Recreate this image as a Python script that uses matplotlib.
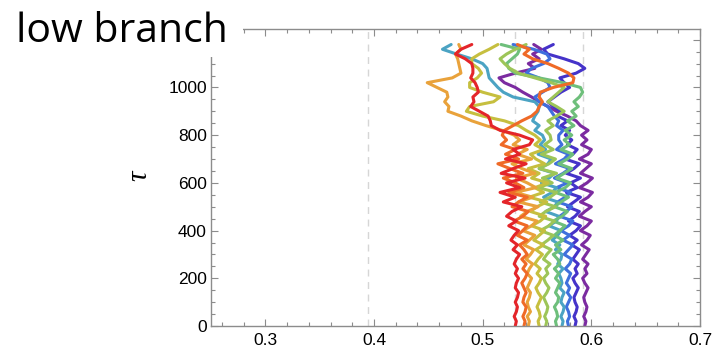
import numpy as np
import matplotlib
matplotlib.use('Agg')
import matplotlib.pyplot as plt
from matplotlib.patches import Rectangle
from matplotlib.ticker import MultipleLocator

# tau sample grid (every 20)
tau = np.arange(0, 1200, 20)

# x position of each trajectory (60 values each)
red = [0.530, 0.531, 0.529, 0.531, 0.532, 0.530, 0.532, 0.533, 0.530, 0.531,
       0.533, 0.530, 0.532, 0.529, 0.531, 0.534, 0.528, 0.532, 0.526, 0.529,
       0.533, 0.524, 0.531, 0.522, 0.527, 0.536, 0.519, 0.530, 0.516, 0.534,
       0.522, 0.539, 0.517, 0.528, 0.540, 0.521, 0.534, 0.528, 0.543, 0.546,
       0.534, 0.516, 0.508, 0.507, 0.505, 0.497, 0.489, 0.492, 0.491, 0.496,
       0.495, 0.493, 0.489, 0.491, 0.491, 0.490, 0.484, 0.475, 0.480, 0.490]
dark_orange = [0.538, 0.539, 0.537, 0.539, 0.540, 0.537, 0.538, 0.540, 0.538, 0.536,
               0.539, 0.541, 0.537, 0.540, 0.536, 0.541, 0.538, 0.534, 0.541, 0.532,
               0.537, 0.541, 0.529, 0.537, 0.542, 0.527, 0.533, 0.541, 0.524, 0.538,
               0.530, 0.519, 0.537, 0.525, 0.514, 0.533, 0.521, 0.530, 0.517, 0.522,
               0.518, 0.520, 0.528, 0.536, 0.545, 0.550, 0.552, 0.555, 0.552, 0.553,
               0.565, 0.583, 0.584, 0.579, 0.570, 0.560, 0.546, 0.538, 0.543, 0.532]
light_orange = [0.542, 0.543, 0.541, 0.544, 0.542, 0.541, 0.543, 0.544, 0.541, 0.543,
                0.545, 0.541, 0.543, 0.546, 0.540, 0.544, 0.547, 0.538, 0.543, 0.548,
                0.537, 0.545, 0.550, 0.535, 0.541, 0.551, 0.533, 0.546, 0.530, 0.549,
                0.541, 0.531, 0.548, 0.536, 0.527, 0.545, 0.532, 0.541, 0.528, 0.534,
                0.529, 0.518, 0.503, 0.490, 0.480, 0.468, 0.469, 0.465, 0.468, 0.467,
                0.458, 0.449, 0.472, 0.480, 0.479, 0.478, 0.477, 0.475, 0.480, 0.478]
olive = [0.552, 0.551, 0.553, 0.552, 0.550, 0.552, 0.554, 0.551, 0.549, 0.552,
         0.554, 0.550, 0.553, 0.548, 0.551, 0.555, 0.549, 0.556, 0.547, 0.552,
         0.557, 0.545, 0.553, 0.558, 0.544, 0.550, 0.559, 0.543, 0.556, 0.548,
         0.560, 0.545, 0.552, 0.542, 0.557, 0.549, 0.544, 0.556, 0.548, 0.553,
         0.548, 0.540, 0.533, 0.520, 0.500, 0.485, 0.488, 0.510, 0.516, 0.500,
         0.488, 0.488, 0.495, 0.499, 0.496, 0.490, 0.490, 0.497, 0.506, 0.514]
yellow_green = [0.558, 0.559, 0.557, 0.559, 0.560, 0.558, 0.556, 0.559, 0.561, 0.558,
                0.556, 0.560, 0.558, 0.562, 0.556, 0.559, 0.563, 0.554, 0.560, 0.565,
                0.553, 0.561, 0.566, 0.552, 0.558, 0.567, 0.553, 0.562, 0.568, 0.551,
                0.564, 0.555, 0.568, 0.552, 0.561, 0.567, 0.554, 0.565, 0.557, 0.563,
                0.562, 0.558, 0.565, 0.560, 0.568, 0.575, 0.568, 0.560, 0.565, 0.570,
                0.575, 0.563, 0.548, 0.533, 0.525, 0.520, 0.516, 0.522, 0.530, 0.540]
green = [0.568, 0.567, 0.569, 0.568, 0.566, 0.569, 0.570, 0.567, 0.569, 0.571,
         0.567, 0.570, 0.566, 0.571, 0.569, 0.565, 0.572, 0.567, 0.574, 0.566,
         0.571, 0.576, 0.565, 0.573, 0.578, 0.566, 0.572, 0.579, 0.567, 0.576,
         0.581, 0.568, 0.575, 0.582, 0.570, 0.578, 0.583, 0.572, 0.580, 0.575,
         0.582, 0.576, 0.584, 0.578, 0.586, 0.582, 0.588, 0.584, 0.589, 0.592,
         0.590, 0.574, 0.552, 0.530, 0.524, 0.522, 0.527, 0.532, 0.534, 0.517]
teal = [0.573, 0.574, 0.572, 0.574, 0.575, 0.572, 0.573, 0.575, 0.571, 0.573,
        0.572, 0.570, 0.574, 0.569, 0.572, 0.573, 0.567, 0.571, 0.564, 0.569,
        0.572, 0.561, 0.568, 0.570, 0.558, 0.566, 0.569, 0.556, 0.564, 0.568,
        0.554, 0.561, 0.566, 0.552, 0.560, 0.563, 0.551, 0.558, 0.553, 0.557,
        0.555, 0.548, 0.552, 0.546, 0.548, 0.551, 0.552, 0.548, 0.528, 0.519,
        0.514, 0.510, 0.506, 0.505, 0.504, 0.500, 0.490, 0.476, 0.463, 0.471]
blue = [0.579, 0.578, 0.580, 0.579, 0.577, 0.579, 0.581, 0.578, 0.580, 0.577,
        0.579, 0.581, 0.576, 0.580, 0.582, 0.575, 0.579, 0.583, 0.574, 0.580,
        0.572, 0.579, 0.583, 0.571, 0.577, 0.582, 0.569, 0.576, 0.581, 0.568,
        0.578, 0.566, 0.574, 0.580, 0.567, 0.575, 0.579, 0.568, 0.573, 0.570,
        0.570, 0.574, 0.568, 0.570, 0.566, 0.563, 0.560, 0.552, 0.548, 0.555,
        0.562, 0.560, 0.552, 0.540, 0.545, 0.556, 0.562, 0.559, 0.547, 0.528]
indigo = [0.585, 0.586, 0.584, 0.586, 0.587, 0.585, 0.584, 0.586, 0.588, 0.585,
          0.583, 0.587, 0.585, 0.588, 0.583, 0.586, 0.589, 0.582, 0.587, 0.580,
          0.586, 0.590, 0.579, 0.585, 0.589, 0.578, 0.584, 0.590, 0.577, 0.587,
          0.581, 0.590, 0.577, 0.584, 0.589, 0.576, 0.583, 0.587, 0.578, 0.582,
          0.576, 0.580, 0.572, 0.578, 0.569, 0.572, 0.565, 0.560, 0.566, 0.572,
          0.580, 0.575, 0.571, 0.586, 0.594, 0.588, 0.575, 0.560, 0.556, 0.565]
purple = [0.594, 0.595, 0.593, 0.595, 0.596, 0.594, 0.593, 0.595, 0.597, 0.594,
          0.592, 0.596, 0.594, 0.597, 0.592, 0.595, 0.598, 0.591, 0.596, 0.599,
          0.590, 0.596, 0.600, 0.589, 0.594, 0.600, 0.590, 0.597, 0.601, 0.589,
          0.596, 0.601, 0.590, 0.595, 0.600, 0.589, 0.597, 0.600, 0.591, 0.596,
          0.591, 0.597, 0.590, 0.586, 0.578, 0.568, 0.560, 0.552, 0.545, 0.537,
          0.530, 0.520, 0.515, 0.530, 0.548, 0.542, 0.552, 0.546, 0.554, 0.547]

series = [purple, indigo, blue, teal, green, yellow_green, olive, light_orange, dark_orange, red]
colors = ['#7b2ba0', '#4533c9', '#3f6fdd', '#4ba3c3', '#6ebf7b', '#9dc558',
          '#c6bf3f', '#e9a23b', '#ef6a27', '#e4252a']

# dashed reference lines
ref_x = [0.3945, 0.530, 0.5925]

y_major = [0, 200, 400, 600, 800, 1000, 1200]
y_labels = ['0', '200', '400', '600', '800', '1000', '']
x_major = [0.3, 0.4, 0.5, 0.6, 0.7]
x_labels = ['0.3', '0.4', '0.5', '0.6', '0.7']

fig = plt.figure(figsize=(7.26, 3.53), dpi=100)
ax = fig.add_axes([211/726, 1-326/353, 489/726, 297/353])

for xv in ref_x:
    ax.axvline(xv, color='#d6d6d6', lw=1, linestyle=(0, (5, 4)), zorder=1)

for s, c in zip(series, colors):
    ax.plot(s, tau, color=c, lw=2.2, solid_joinstyle='round', solid_capstyle='round', zorder=2)

ax.set_xlim(0.25, 0.7)
ax.set_ylim(0, 1245)
ax.set_xticks(x_major)
ax.set_xticklabels(x_labels)
ax.set_yticks(y_major)
ax.set_yticklabels(y_labels)
ax.xaxis.set_minor_locator(MultipleLocator(0.02))
ax.yaxis.set_minor_locator(MultipleLocator(50))

frame = '#8c8c8c'
for sp in ax.spines.values():
    sp.set_color(frame)
    sp.set_linewidth(1.0)
ax.tick_params(which='both', direction='in', top=True, right=True, color=frame,
               labelsize=12.5, labelcolor='black')
ax.tick_params(which='major', length=5, width=0.8)
ax.tick_params(which='minor', length=3, width=0.8)
ax.tick_params(axis='x', pad=5)
ax.tick_params(axis='y', pad=3)
for lbl in ax.get_xticklabels() + ax.get_yticklabels():
    lbl.set_family(['Liberation Sans', 'DejaVu Sans'])

ax.set_ylabel('τ', fontsize=21, style='italic', family=['Liberation Serif', 'DejaVu Serif'])
ax.yaxis.set_label_coords(-0.12, 0.505)

# white box behind the title covers the frame corner
fig.patches.append(Rectangle((0, 1-57/353), 243/726, 57/353, transform=fig.transFigure,
                             facecolor='white', edgecolor='none', zorder=5))
fig.text(16/726, 1-42/353, 'low branch', fontsize=29.5, family=['Open Sans', 'DejaVu Sans'],
         va='baseline', ha='left', zorder=6)

fig.savefig('out.png', dpi=100)
